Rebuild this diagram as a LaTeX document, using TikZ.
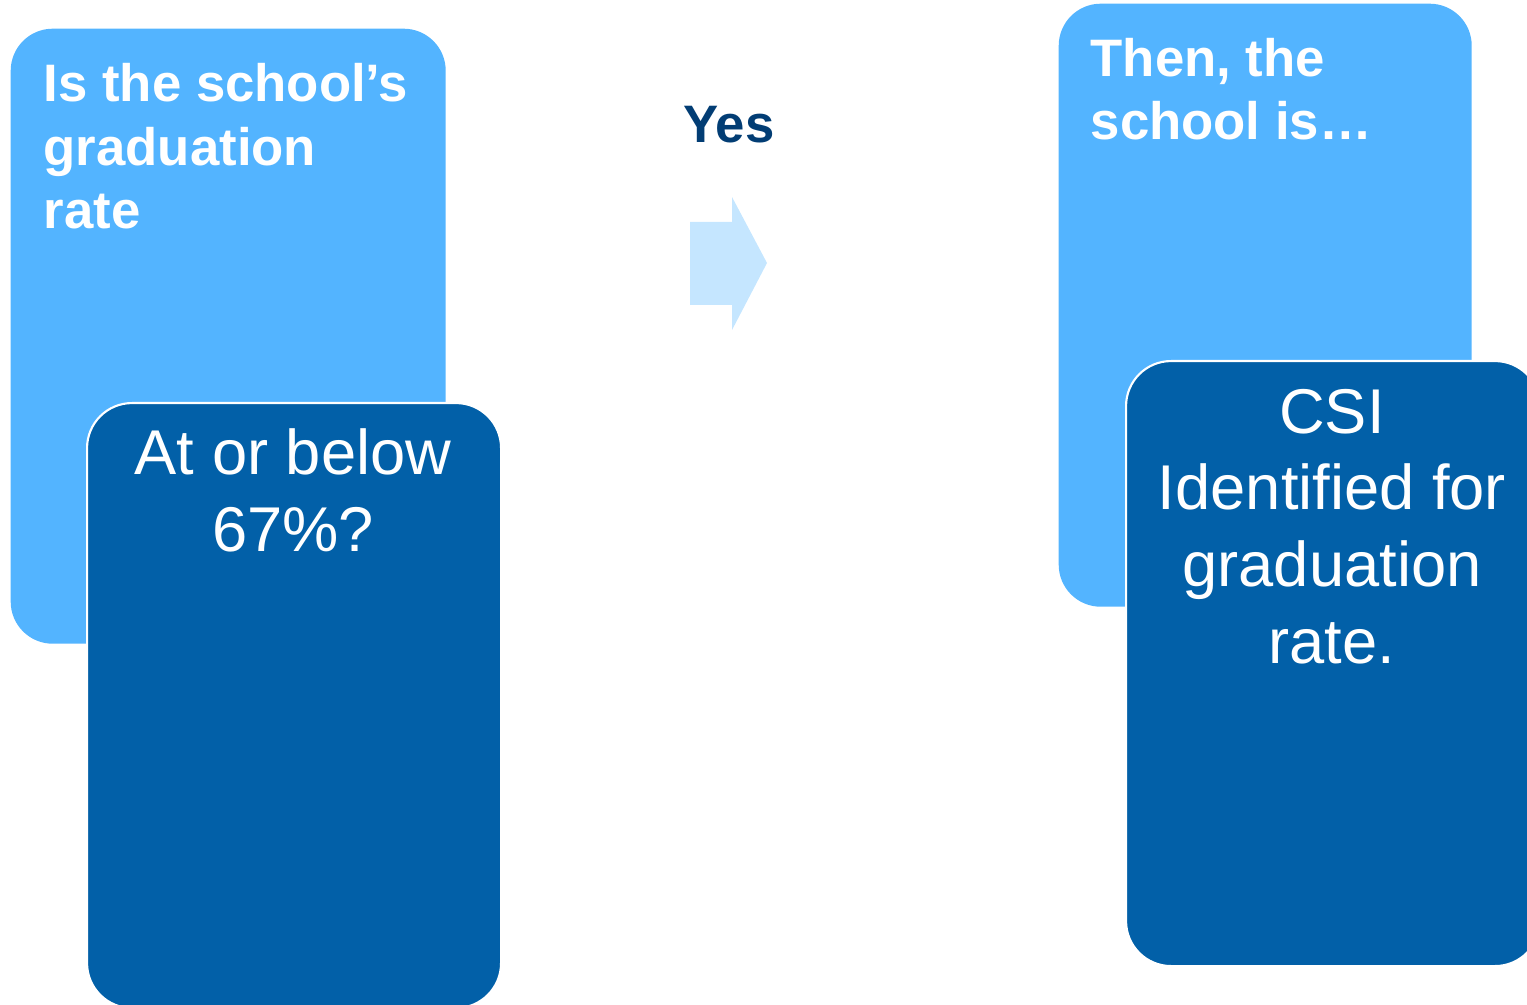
\documentclass[tikz,border=0pt]{standalone}
\usepackage{fontspec}
\setmainfont{Liberation Sans}
\definecolor{lightblue}{HTML}{53B4FF}
\definecolor{darkblue}{HTML}{0260A8}
\definecolor{paleblue}{HTML}{C5E6FF}
\definecolor{navy}{HTML}{023D74}
\begin{document}
\begin{tikzpicture}[
    lightbox/.style={fill=lightblue, rounded corners=0.42cm, anchor=north west,
      minimum width=4.35cm, minimum height=6.15cm, inner sep=0pt},
    darkbox/.style={fill=darkblue, draw=white, line width=0.6pt, rounded corners=0.45cm,
      anchor=north west, minimum width=4.14cm, minimum height=6.05cm, inner sep=0pt},
    headtext/.style={text=white, font=\bfseries\fontsize{15}{18.2}\selectfont,
      align=left, inner sep=0pt, anchor=base west},
    bodytext/.style={text=white, font=\fontsize{18}{21.8}\selectfont,
      align=center, inner sep=0pt, anchor=base}
  ]
      \useasboundingbox (0,0) rectangle (15.27,-10.05);
      \node[lightbox] (q) at (0.10,-0.28) {};
      \node[headtext] (qtext) at (0.43,-2.29) {Is the school’s\\graduation\\rate};
      \node[darkbox] (cond) at (0.86,-4.02) {};
      \node[bodytext] (condtext) at (2.93,-5.51) {At or below\\67\%?};
      \node[text=navy, font=\bfseries\fontsize{15}{18.2}\selectfont, anchor=base, inner sep=0pt]
        (yes) at (7.29,-1.43) {Yes};
      \fill[paleblue] (6.90,-2.22) -- (7.32,-2.22) -- (7.32,-1.97) -- (7.67,-2.63)
        -- (7.32,-3.30) -- (7.32,-3.05) -- (6.90,-3.05) -- cycle;
      \node[lightbox, minimum width=4.13cm, minimum height=6.03cm] (then) at (10.58,-0.03) {};
      \node[headtext] (thentext) at (10.90,-1.40) {Then, the\\school is…};
      \node[darkbox] (csi) at (11.25,-3.60) {};
      \node[bodytext] (csitext) at (13.32,-6.63) {CSI\\Identified for\\graduation\\rate.};
    \end{tikzpicture}
\end{document}
